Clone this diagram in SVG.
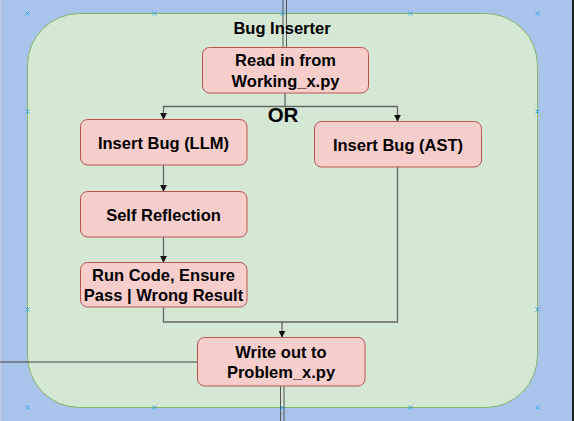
<svg xmlns="http://www.w3.org/2000/svg" width="574" height="421" viewBox="0 0 574 421">
<defs>
<style>
.node rect{fill:#F8CECC;stroke:#B85450;stroke-width:1}
.t{font-family:"Liberation Sans",Arial,Helvetica,sans-serif;font-weight:bold;font-size:16.5px;fill:#000;text-anchor:middle}
.c{fill:none;stroke:#666;stroke-width:1.3}
.x{stroke:#2BA6F5;stroke-width:1}
</style>
<marker id="ah" viewBox="0 0 10 10" refX="9" refY="5" markerWidth="7" markerHeight="7" markerUnits="userSpaceOnUse" orient="auto">
<path d="M0,0 L10,5 L0,10 z" fill="#111"/>
</marker>
</defs>
<rect x="0" y="0" width="574" height="421" fill="#A9C4EB"/>
<rect x="0" y="0" width="2.5" height="421" fill="#B8CAE8"/>
<line x1="3" y1="0" x2="3" y2="421" stroke="#9CB1D6" stroke-width="1"/>
<rect x="572" y="0" width="2" height="421" fill="#1E1E1E"/>
<g id="container">
<rect x="27.5" y="13.5" width="510" height="394" rx="52" ry="52" fill="#D5E8D4" stroke="#82B366" stroke-width="1"/>
</g>
<g id="passthrough">
<line x1="283" y1="0" x2="283" y2="47" stroke="#555" stroke-width="1"/>
<line x1="286.5" y1="0" x2="286.5" y2="47" stroke="#555" stroke-width="1"/>
<line x1="280.5" y1="386" x2="280.5" y2="421" stroke="#555" stroke-width="1"/>
<line x1="284" y1="386" x2="284" y2="421" stroke="#555" stroke-width="1"/>
<line x1="0" y1="362" x2="197" y2="362" stroke="#444" stroke-width="1.2"/>
</g>
<text class="t" x="282" y="34">Bug Inserter</text>
<g id="connectors">
<path class="c" d="M285,93 V106.5 H163.5 V119" marker-end="url(#ah)"/>
<path class="c" d="M285,106.5 H397.5 V121" marker-end="url(#ah)"/>
<path class="c" d="M163.5,165 V191" marker-end="url(#ah)"/>
<path class="c" d="M163.5,237 V262" marker-end="url(#ah)"/>
<path class="c" d="M163.5,307 V322 H282 V337" marker-end="url(#ah)"/>
<path class="c" d="M397.5,167 V322 H282"/>
</g>
<text class="t" x="283" y="122" style="font-size:20.5px">OR</text>
<g id="read" class="node">
<rect x="202.5" y="47.5" width="166" height="45.5" rx="7"/>
<text class="t" x="285.5" y="66">Read in from</text>
<text class="t" x="285.5" y="87">Working_x.py</text>
</g>
<g id="llm" class="node">
<rect x="80.5" y="119.5" width="166.5" height="45.5" rx="7"/>
<text class="t" x="163.5" y="148.5">Insert Bug (LLM)</text>
</g>
<g id="ast" class="node">
<rect x="314.5" y="121.5" width="167" height="45.5" rx="7"/>
<text class="t" x="398" y="150.5">Insert Bug (AST)</text>
</g>
<g id="reflect" class="node">
<rect x="80.5" y="191.5" width="166.5" height="45.5" rx="7"/>
<text class="t" x="163.5" y="220.5">Self Reflection</text>
</g>
<g id="run" class="node">
<rect x="80.5" y="262.5" width="166.5" height="44.5" rx="7"/>
<text class="t" x="163.5" y="281">Run Code, Ensure</text>
<text class="t" x="163.5" y="301">Pass | Wrong Result</text>
</g>
<g id="write" class="node">
<rect x="197.5" y="337.5" width="167.5" height="48.5" rx="7"/>
<text class="t" x="281" y="357.5">Write out to</text>
<text class="t" x="281" y="378">Problem_x.py</text>
</g>
<g id="handles" class="x">
<path d="M25.5,11.5l4,4m0,-4l-4,4 M152.5,11.5l4,4m0,-4l-4,4 M280.5,11.5l4,4m0,-4l-4,4 M408.5,11.5l4,4m0,-4l-4,4 M535.5,11.5l4,4m0,-4l-4,4 M25.5,109.5l4,4m0,-4l-4,4 M535.5,109.5l4,4m0,-4l-4,4 M25.5,307.5l4,4m0,-4l-4,4 M535.5,307.5l4,4m0,-4l-4,4 M25.5,405.5l4,4m0,-4l-4,4 M152.5,405.5l4,4m0,-4l-4,4 M280.5,405.5l4,4m0,-4l-4,4 M408.5,405.5l4,4m0,-4l-4,4 M535.5,405.5l4,4m0,-4l-4,4"/>
</g>
</svg>
